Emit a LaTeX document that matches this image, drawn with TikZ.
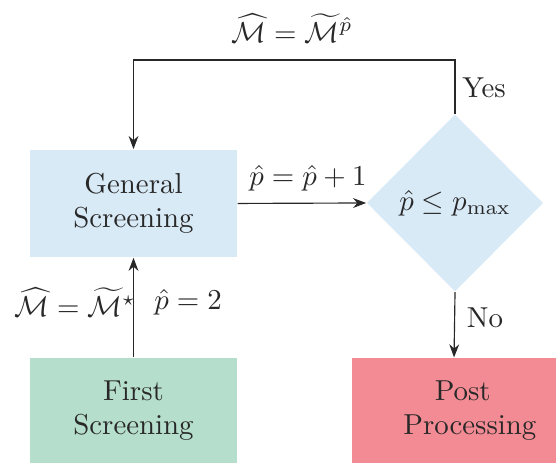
\documentclass[tikz,border=0pt]{standalone}
\usepackage{amsmath}
\usetikzlibrary{shapes.geometric,arrows.meta}
\definecolor{screenblue}{RGB}{217,234,247}
\definecolor{firstgreen}{RGB}{182,222,204}
\definecolor{postred}{RGB}{242,139,147}
\definecolor{inkgray}{RGB}{40,40,40}
\tikzset{
  box/.style={rectangle, minimum width=2.52cm, minimum height=1.31cm, inner sep=2pt, align=center, text=inkgray},
  test/.style={diamond, fill=screenblue, minimum width=2.15cm, minimum height=2.16cm, inner sep=0pt, text=inkgray},
  flow/.style={-{Stealth[length=1.6mm,width=1.2mm]}, draw=inkgray},
  lbl/.style={text=inkgray}
}
\begin{document}
\begin{tikzpicture}
\useasboundingbox (0,0) rectangle (6.772,5.639);
% boxes
\node[box, fill=screenblue] (gen) at (1.626,3.161) {General\\Screening};
\node[box, fill=firstgreen, minimum height=1.28cm] (first) at (1.626,0.639) {First\\Screening};
\node[box, fill=postred, minimum width=2.485cm, minimum height=1.28cm] (post) at (5.530,0.639) {\hspace{6pt}Post\\\hspace{11pt}Processing};
\node[test] (check) at (5.542,3.167) {$\hat{p} \le p_{\max}$};
\coordinate (top) at (5.542,4.909);
% connectors
\draw[flow] (first.north) -- (gen.south);
\draw[flow] (gen.east) -- (check.west);
\draw[flow] (check.north) -- (top) -| (gen.north);
\draw[flow] (check.south) -- (post.north);
% labels
\node[lbl] (lbltop) at (3.557,5.298) {$\widehat{\mathcal{M}} = \widetilde{\mathcal{M}}^{\hat{p}}$};
\node[lbl] (lblyes) at (5.895,4.568) {Yes};
\node[lbl] (lblno) at (5.907,1.766) {No};
\node[lbl] (lblinc) at (3.751,3.471) {$\hat{p} = \hat{p} + 1$};
\node[lbl] (lblstar) at (0.914,1.961) {$\widehat{\mathcal{M}} = \widetilde{\mathcal{M}}^{\star}$};
\node[lbl] (lbltwo) at (2.290,1.961) {$\hat{p} = 2$};
\end{tikzpicture}
\end{document}
